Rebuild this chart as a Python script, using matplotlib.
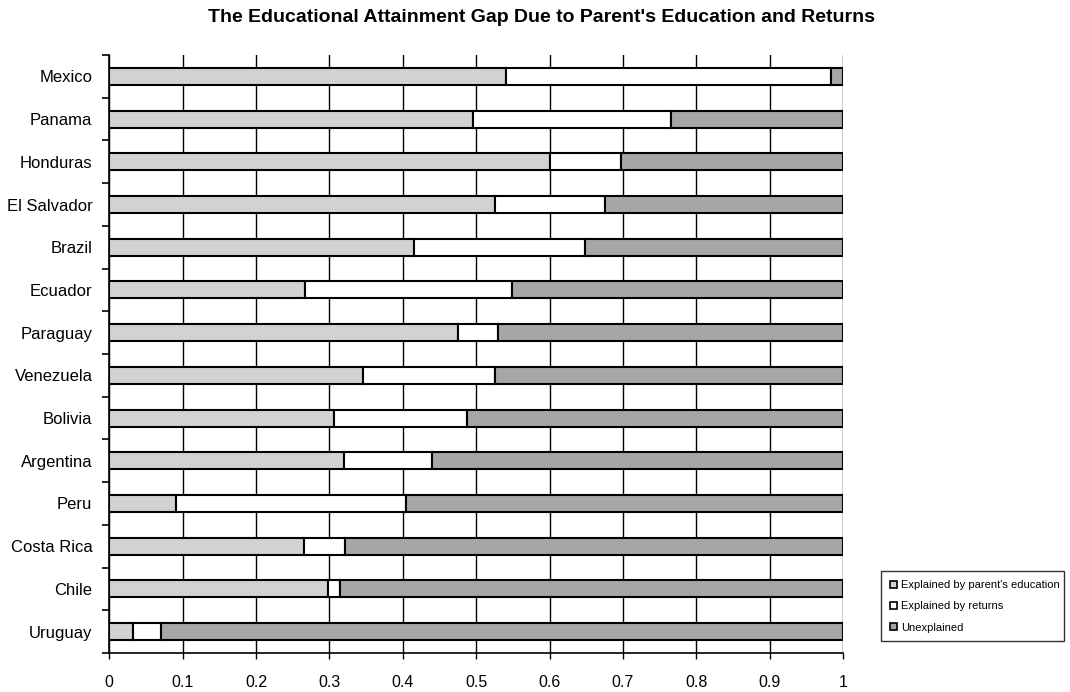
import matplotlib.pyplot as plt
import matplotlib.patches as mpatches
import numpy as np

plt.rcParams['font.family'] = ['Liberation Sans', 'DejaVu Sans']

countries = ['Mexico', 'Panama', 'Honduras', 'El Salvador', 'Brazil', 'Ecuador',
             'Paraguay', 'Venezuela', 'Bolivia', 'Argentina', 'Peru',
             'Costa Rica', 'Chile', 'Uruguay']
parent_edu = [0.541, 0.496, 0.601, 0.525, 0.416, 0.267, 0.475,
              0.346, 0.307, 0.320, 0.091, 0.266, 0.298, 0.033]
returns = [0.443, 0.269, 0.097, 0.151, 0.232, 0.282, 0.055,
           0.180, 0.180, 0.120, 0.313, 0.055, 0.016, 0.037]
unexplained = [0.016, 0.235, 0.302, 0.324, 0.352, 0.451, 0.470,
               0.474, 0.513, 0.560, 0.596, 0.679, 0.686, 0.930]

xticks = [0, 0.1, 0.2, 0.3, 0.4, 0.5, 0.6, 0.7, 0.8, 0.9, 1]
xtick_labels = ['0', '0.1', '0.2', '0.3', '0.4', '0.5', '0.6', '0.7', '0.8', '0.9', '1']

fig = plt.figure(figsize=(10.7, 6.92), dpi=100)
ax = fig.add_axes([0.102, 0.0564, 0.686, 0.8641])

y = np.arange(len(countries))
h = 0.4
left = np.zeros(len(countries))
series = [
    (parent_edu, '#d2d2d2', "Explained by parent's education"),
    (returns, '#ffffff', 'Explained by returns'),
    (unexplained, '#a6a6a6', 'Unexplained'),
]
handles = []
for vals, col, lab in series:
    ax.barh(y, vals, left=left, height=h, color=col, edgecolor='black',
            linewidth=1.5, zorder=3)
    left = left + np.array(vals)
    handles.append(mpatches.Patch(facecolor=col, edgecolor='black', linewidth=1.2, label=lab))

ax.set_xlim(0, 1)
ax.set_ylim(len(countries) - 0.5, -0.5)
ax.set_xticks(xticks)
ax.set_xticklabels(xtick_labels, fontsize=11.5)
ax.tick_params(axis='x', length=4, width=1.0, direction='out', pad=12)
ax.set_yticks(y)
ax.set_yticklabels(countries, fontsize=12)
ax.tick_params(axis='y', which='major', length=0, pad=12)
ax.set_yticks(np.arange(-0.5, len(countries), 1), minor=True)
ax.tick_params(axis='y', which='minor', length=5, width=1.2, direction='out')
ax.grid(axis='x', color='black', linewidth=1.0, zorder=0)
ax.set_axisbelow(True)
for s in ['top', 'right']:
    ax.spines[s].set_visible(False)
for s in ['left', 'bottom']:
    ax.spines[s].set_linewidth(1.2)

fig.text(0.506, 0.975, "The Educational Attainment Gap Due to Parent's Education and Returns",
         ha='center', va='center', fontsize=14, fontweight='bold')

leg = fig.legend(handles=handles, loc='lower left',
                 bbox_to_anchor=(0.818, 0.065, 0.182, 0.113), mode='expand',
                 fontsize=8, frameon=True, fancybox=False, edgecolor='black',
                 handlelength=0.7, handleheight=0.5, handletextpad=0.3,
                 labelspacing=1.0, borderpad=0.8)
leg.get_frame().set_linewidth(1.0)

fig.savefig('out.png', dpi=100)
